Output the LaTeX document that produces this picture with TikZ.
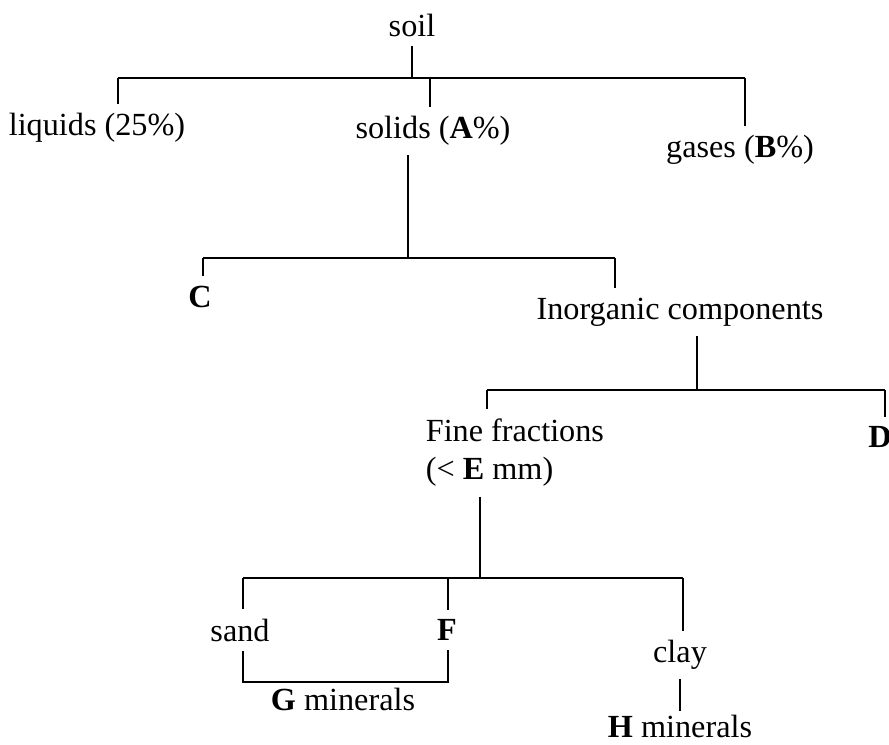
\documentclass[tikz,border=0pt]{standalone}
\usepackage{fontspec}
\setmainfont{Liberation Serif}
\begin{document}
\begin{tikzpicture}[x=0.012cm,y=-0.012cm,line width=0.7pt,line cap=butt]
			\tikzset{lbl/.style={inner sep=3pt,font=\fontsize{11}{13}\selectfont}
			}
			\clip (0,0) rectangle (889,744);
			% text
			\node[lbl] (soil) at (412,25) {soil};
			\node[lbl] (liquids) at (97,128) {liquids (25\%)};
			\node[lbl] (solids) at (433,131) {solids (\textbf{A}\%)};
			\node[lbl] (gases) at (740,150) {gases (\textbf{B}\%)};
			\node[lbl] (C) at (200,297) {\textbf{C}};
			\node[lbl] (inorg) at (680,312) {Inorganic components};
			\node[lbl,align=left,anchor=west] (fine) at (416,453) {Fine fractions\\(< \textbf{E} mm)};
			\node[lbl] (D) at (880,437) {\textbf{D}};
			\node[lbl] (sand) at (240,630) {sand};
			\node[lbl] (F) at (447,630) {\textbf{F}};
			\node[lbl] (clay) at (680,655) {clay};
			\node[lbl] (G) at (343,699) {\textbf{G} minerals};
			\node[lbl,inner sep=1pt] (H) at (680,726) {\textbf{H} minerals};
			% junctions
			\coordinate (a1) at (118,78);
			\coordinate (a2) at (430,78);
			\coordinate (a3) at (745,78);
			\coordinate (b0) at (408,258);
			\coordinate (b1) at (203,258);
			\coordinate (b2) at (615,258);
			\coordinate (c0) at (697,390);
			\coordinate (c1) at (487,390);
			\coordinate (c2) at (885,390);
			\coordinate (d0) at (480,578);
			\coordinate (d1) at (243,578);
			\coordinate (d2) at (448,578);
			\coordinate (d3) at (683,578);
			\coordinate (g1) at (243,682);
			\coordinate (g2) at (448,682);
			\coordinate (h1) at (680,700);
			% soil
			\draw (a1) -- (a3);
			\draw (soil) -- (soil|-a1);
			\draw (a1) -- (a1|-liquids.north);
			\draw (a2) -- (a2|-solids.north);
			\draw (a3) -- (a3|-gases.north);
			% solids
			\draw (b1) -- (b2);
			\draw (b0|-solids.south) -- (b0);
			\draw (b1) -- (b1|-C.north);
			\draw (b2) -- (b2|-inorg.north);
			% inorganic
			\draw (c1) -- (c2);
			\draw (c0|-inorg.south) -- (c0);
			\draw (c1) -- (c1|-fine.north);
			\draw (c2) -- (c2|-D.north);
			% fine fractions
			\draw (d1) -- (d3);
			\draw (d0|-fine.south) -- (d0);
			\draw (d1) -- (d1|-sand.north);
			\draw (d2) -- (d2|-F.north);
			\draw (d3) -- (d3|-clay.north);
			\draw (g1|-sand.south) -- (g1) -- (g2) -- (g2|-F.south);
			\draw (h1|-clay.south) -- (h1|-H.north);
\end{tikzpicture}
\end{document}
